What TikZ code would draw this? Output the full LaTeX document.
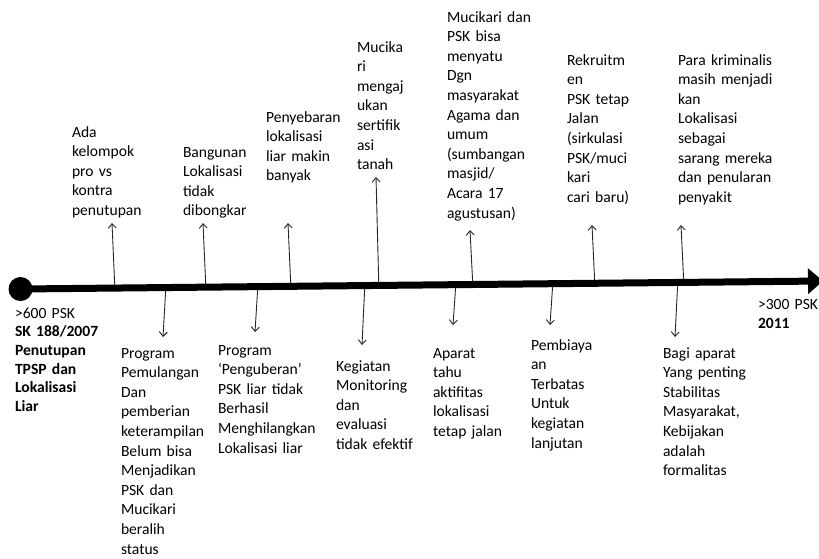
\documentclass[tikz,border=0pt]{standalone}
\usepackage{fontspec}
\setmainfont{Carlito}
\usetikzlibrary{arrows.meta,calc}

\begin{document}
\begin{tikzpicture}[x=1pt,y=-1pt,
  lbl/.style={anchor=base west, inner sep=0pt, outer sep=0pt, text width=130pt,
    align=left, font=\fontsize{15.6}{19.6}\selectfont},
  tick/.style={draw=black!85, line width=0.9pt, -{Straight Barb[length=4.5pt,width=8pt]}},
  timeline/.style={line width=7pt, -{Triangle[length=15pt,width=25pt]}}
]
\useasboundingbox (0,0) rectangle (819,558);

% ends of the time axis
\coordinate (L0) at (20.5,289);
\coordinate (L1) at (823,281);

% events above the axis
\node[lbl] (t1) at (72,137) {Ada\\kelompok\\pro vs\\kontra\\penutupan};
\node[lbl] (t2) at (183,157) {Bangunan\\Lokalisasi\\tidak\\dibongkar};
\node[lbl] (t3) at (266,122) {Penyebaran\\lokalisasi\\liar makin\\banyak};
\node[lbl] (t4) at (357,52) {Mucika\\ri\\mengaj\\ukan\\sertifik\\asi\\tanah};
\node[lbl] (t5) at (447,22) {Mucikari dan\\PSK bisa\\menyatu\\Dgn\\masyarakat\\Agama dan\\umum\\(sumbangan\\masjid/\\Acara 17\\agustusan)};
\node[lbl] (t6) at (567,65) {Rekruitm\\en\\PSK tetap\\Jalan\\(sirkulasi\\PSK/muci\\kari\\cari baru)};
\node[lbl] (t7) at (678,65) {Para kriminalis\\masih menjadi\\kan\\Lokalisasi\\sebagai\\sarang mereka\\dan penularan\\penyakit};

% events below the axis
\node[lbl, font=\fontsize{15.6}{18.7}\selectfont] (b0) at (15,318)
  {>600 PSK\\\textbf{SK 188/2007}\\\textbf{Penutupan}\\\textbf{TPSP dan}\\\textbf{Lokalisasi}\\\textbf{Liar}};
\node[lbl] (b1) at (121,358) {Program\\Pemulangan\\Dan\\pemberian\\keterampilan\\Belum bisa\\Menjadikan\\PSK dan\\Mucikari\\beralih\\status};
\node[lbl] (b2) at (218,355) {Program\\‘Penguberan’\\PSK liar tidak\\Berhasil\\Menghilangkan\\Lokalisasi liar};
\node[lbl] (b3) at (336,371) {Kegiatan\\Monitoring\\dan\\evaluasi\\tidak efektif};
\node[lbl] (b4) at (433,358) {Aparat\\tahu\\aktifitas\\lokalisasi\\tetap jalan};
\node[lbl] (b5) at (531,350) {Pembiaya\\an\\Terbatas\\Untuk\\kegiatan\\lanjutan};
\node[lbl] (b6) at (663,358) {Bagi aparat\\Yang penting\\Stabilitas\\Masyarakat,\\Kebijakan\\adalah\\formalitas};
\node[lbl, font=\fontsize{15.6}{19}\selectfont] (e) at (758,309) {>300 PSK\\\textbf{2011}};

% tick arrows: start on the axis, end below/above it
\foreach \n/\x/\y in {u1/112/223, u2/203/223, u3/288/223, u4/376/177,
                      u5/470/230, u6/592/225, u7/681/225,
                      d1/163/337, d2/255/332, d3/362/345, d4/453/325,
                      d5/550/325, d6/675/337} {
  \coordinate (s\n) at ($(L0)!(\x,0)!(L1)$);
  \coordinate (e\n) at (\x,\y);
  \draw[tick] (s\n) -- (e\n);
}

% the axis itself
\draw[timeline] (L0) -- (L1);
\fill (L0) circle (12pt);
\end{tikzpicture}
\end{document}
